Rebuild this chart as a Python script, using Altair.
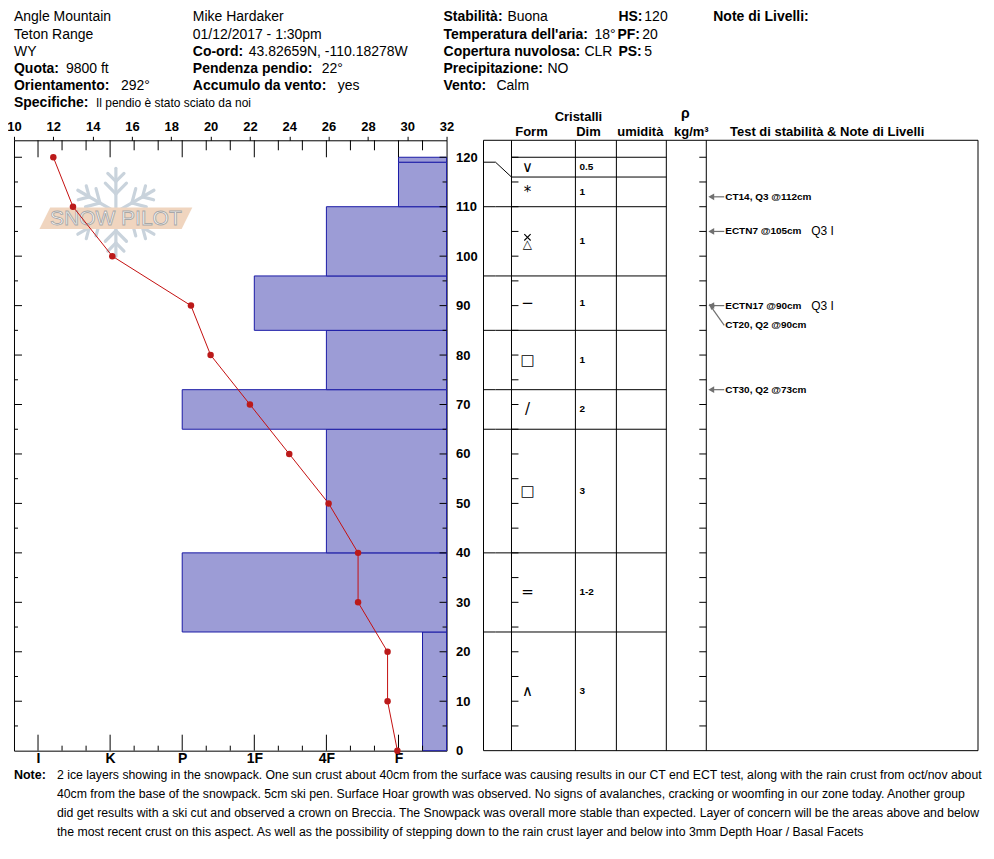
import math
import altair as alt
import pandas as pd

# ---------------- data ----------------
header_place = ["Angle Mountain", "Teton Range", "WY"]
header_observer = ["Mike Hardaker", "01/12/2017 - 1:30pm"]
header_labels = ["Quota:", "Orientamento:", "Specifiche:",
                 "Co-ord:", "Pendenza pendio:", "Accumulo da vento:",
                 "Stabilità:", "Temperatura dell'aria:", "Copertura nuvolosa:",
                 "Precipitazione:", "Vento:", "HS:", "PF:", "PS:", "Note di Livelli:"]
header_values = ["9800 ft", "292°", "Il pendio è stato sciato da noi",
                 "43.82659N, -110.18278W", "22°", "yes",
                 "Buona", "18°", "CLR", "NO", "Calm", "120", "20", "5", ""]

temp_height = [0, 10, 20, 30, 40, 50, 60, 70, 80, 90, 100, 110, 120]
temp_value = [29.5, 29.0, 29.0, 27.5, 27.5, 26.0, 24.0, 22.0, 20.0, 19.0, 15.0, 13.0, 12.0]
temp_ticks = [10, 12, 14, 16, 18, 20, 22, 24, 26, 28, 30, 32]

hard_codes = ["", "F-", "F", "F+", "4F-", "4F", "4F+", "1F-", "1F", "1F+",
              "P-", "P", "P+", "K-", "K", "K+", "I-", "I", "I+"]
hard_axis_labels = ["F", "4F", "1F", "P", "K", "I"]

layer_bottom = [0, 24, 40, 65, 73, 85, 96, 110, 119]
layer_top = [24, 40, 65, 73, 85, 96, 110, 119, 120]
layer_hardness = ["F-", "P", "4F", "P", "4F", "1F", "4F", "F", "F"]

row_bottom = [0, 24, 40, 65, 73, 85, 96, 110, 116]
row_top = [24, 40, 65, 73, 85, 96, 110, 116, 120]
crystal_form = ["∧", "=", "□", "/", "□", "−", "△", "*", "∨"]
crystal_cross = [False, False, False, False, False, False, True, False, False]
crystal_size = ["3", "1-2", "3", "2", "1", "1", "1", "1", "0.5"]

test_text = ["CT14, Q3 @112cm", "ECTN7 @105cm", "ECTN17 @90cm", "CT20, Q2 @90cm", "CT30, Q2 @73cm"]
test_height = [112, 105, 90, 90, 73]
test_label_height = [112, 105, 90, 86, 73]
test_extra = ["", "Q3 I", "Q3 I", "", ""]

height_labels = list(range(0, 121, 10))

table_titles = ["Cristalli", "Form", "Dim", "umidità", "ρ", "kg/m³",
                "Test di stabilità & Note di Livelli"]

note_label = "Note:"
note_lines = [
    "2 ice layers showing in the snowpack.  One sun crust about 40cm from the surface was causing results in our CT end ECT test, along with the rain crust from oct/nov about",
    "40cm from the base of the snowpack. 5cm ski pen.  Surface Hoar growth was observed.  No signs of avalanches, cracking or woomfing in our zone today. Another group",
    "did get results with a ski cut and observed a crown on Breccia. The Snowpack was overall more stable than expected.  Layer of concern will be the areas above and below",
    "the most recent crust on this aspect. As well as the possibility of stepping down to the rain crust layer and below into 3mm Depth Hoar / Basal Facets",
]

# ---------------- layout (page pixels) ----------------
L, T = 14, 140          # top-left of the profile plot on the page
W, H = 433, 611         # profile plot size
YMAX = 123.43
FONT = "Liberation Sans"


def px(x):
    return x - L


def py(y):
    return y - T


ROW = [21, 38.2, 55.4, 72.6, 89.8, 107]
place_pos = [(14, ROW[0]), (14, ROW[1]), (14, ROW[2])]
observer_pos = [(193, ROW[0]), (193, ROW[1])]
label_pos = [(14, ROW[3]), (14, ROW[4]), (14, ROW[5]),
             (193, ROW[2]), (193, ROW[3]), (193, ROW[4]),
             (444, ROW[0]), (444, ROW[1]), (444, ROW[2]), (444, ROW[3]), (444, ROW[4]),
             (619, ROW[0]), (618, ROW[1]), (619, ROW[2]), (714, ROW[0])]
value_x = [66, 121, 96, 249, 322, 338, 508, 595, 585, 548, 497, 645, 643, 645, 0]
title_pos = [(579, 121, 13), (532, 136, 13), (589, 136, 13), (641, 136, 13),
             (686, 118, 14), (692, 136, 13), (828, 136, 13)]

# ---------------- scales / axes ----------------
yscale = alt.Scale(domain=[0, YMAX], nice=False, zero=False)
yaxis = alt.Axis(orient="right", values=height_labels, ticks=False, domain=False, grid=False,
                 labelFontSize=13, labelFontWeight="bold", labelPadding=9, title=None,
                 labelFont=FONT, labelColor="black")


def Y(f):
    return alt.Y(f, type="quantitative", scale=yscale, axis=yaxis)


tscale = alt.Scale(domain=[10, 32], nice=False, zero=False)
taxis = alt.Axis(orient="top", values=temp_ticks, grid=False, domain=False, tickSize=4,
                 tickColor="black", labelFontSize=13, labelFontWeight="bold", labelPadding=3,
                 labelFlush=False, labelOverlap=False, title=None, labelFont=FONT,
                 labelColor="black")

hscale = alt.Scale(domain=[0, 18], nice=False, zero=True, reverse=True)
label_array = "[" + ",".join("'" + c + "'" for c in hard_codes) + "]"
haxis = alt.Axis(orient="bottom", values=[hard_codes.index(c) for c in hard_axis_labels],
                 labelExpr=label_array + "[datum.value]", ticks=False, domain=False,
                 grid=False, labelFontSize=14, labelFontWeight="bold", labelPadding=1,
                 labelFlush=False, labelOverlap=False, title=None, labelFont=FONT,
                 labelColor="black")


def XH(f):
    return alt.X(f, type="quantitative", scale=hscale, axis=haxis)


def XP(f):
    return alt.X(f, type="quantitative", scale=None, axis=None)


def YP(f):
    return alt.Y(f, type="quantitative", scale=None, axis=None)


one = pd.DataFrame({"a": [0]})

# ---------------- logo (decoration) ----------------
cx, cy, R = 116, 212, 44
segs = []
for k in range(6):
    a = math.radians(90 + 60 * k)
    dx, dy = math.cos(a), -math.sin(a)
    segs.append((cx, cy, cx + R * dx, cy + R * dy))
    for f, bl in [(0.42, 0.34), (0.70, 0.26)]:
        bx, by = cx + R * f * dx, cy + R * f * dy
        for s in (-1, 1):
            b = a + s * math.radians(45)
            segs.append((bx, by, bx + R * bl * math.cos(b), by - R * bl * math.sin(b)))
df_flake = pd.DataFrame([{"x1": px(a), "y1": py(b), "x2": px(c), "y2": py(d)} for a, b, c, d in segs])
flake = alt.Chart(df_flake).mark_rule(color="#c9d3dc", strokeWidth=3.2, strokeCap="round").encode(
    x=XP("x1"), y=YP("y1"), x2="x2:Q", y2="y2:Q")
band = alt.Chart(one).mark_point(
    shape="M -1 0.14 L -0.86 -0.14 L 1 -0.14 L 0.86 0.14 Z",
    filled=True, color="#f0d5bf", opacity=1, size=153 * 153).encode(
    x=alt.value(px(116)), y=alt.value(py(218)))
logo_text = alt.Chart(one).mark_text(
    text="SNOW PILOT", font=FONT, fontSize=21, fill="white", stroke="#a8a8a8",
    strokeWidth=0.9, align="center", baseline="middle").encode(
    x=alt.value(px(116)), y=alt.value(py(218.5)))
logo = alt.layer(flake, band, logo_text)

# ---------------- hardness profile ----------------
df_layers = pd.DataFrame({"b": layer_bottom, "t": layer_top,
                          "hv": [hard_codes.index(c) for c in layer_hardness],
                          "zero": [0] * len(layer_bottom)})
bars = alt.Chart(df_layers).mark_rect(fill="#9c9cd6", stroke="#1a1aa6", strokeWidth=1).encode(
    x=XH("hv"), x2="zero:Q", y=Y("b"), y2="t:Q")

major_h = [hard_codes.index(c) for c in hard_axis_labels]
df_ht_major = pd.DataFrame({"hv": major_h})
df_ht_minor = pd.DataFrame({"hv": [v for v in range(1, 18) if v not in major_h]})
tick_top_major = alt.Chart(df_ht_major).mark_rule(color="black").encode(
    x=XH("hv"), y=alt.value(0), y2=alt.value(17))
tick_top_minor = alt.Chart(df_ht_minor).mark_rule(color="black").encode(
    x=XH("hv"), y=alt.value(0), y2=alt.value(10))
tick_bot_major = alt.Chart(df_ht_major).mark_rule(color="black").encode(
    x=XH("hv"), y=alt.value(H), y2=alt.value(H - 16))
tick_bot_minor = alt.Chart(df_ht_minor).mark_rule(color="black").encode(
    x=XH("hv"), y=alt.value(H), y2=alt.value(H - 5))
hard_group = alt.layer(bars, tick_top_major, tick_top_minor, tick_bot_major, tick_bot_minor)

# ---------------- temperature profile ----------------
df_temp = pd.DataFrame({"h": temp_height, "t": temp_value})
tline = alt.Chart(df_temp).mark_line(color="#c40f0f", strokeWidth=1).encode(
    x=alt.X("t:Q", scale=tscale, axis=taxis), y=Y("h"), order="h:Q")
tpts = alt.Chart(df_temp).mark_circle(color="#bb1a1a", size=42, opacity=1).encode(
    x=alt.X("t:Q", scale=tscale, axis=taxis), y=Y("h"))
temp_group = alt.layer(tline, tpts)

# ---------------- height ticks on plot edges and table ----------------
df_y10 = pd.DataFrame({"h": list(range(10, 121, 10))})
df_y5 = pd.DataFrame({"h": list(range(5, 121, 10))})
edge_ticks = []
for df_, llen, rlen in [(df_y10, 8, 7), (df_y5, 4, 4)]:
    edge_ticks.append(alt.Chart(df_).mark_rule(color="black").encode(
        x=alt.value(0), x2=alt.value(llen), y=Y("h")))
    edge_ticks.append(alt.Chart(df_).mark_rule(color="black").encode(
        x=alt.value(W - rlen), x2=alt.value(W), y=Y("h")))
df_y_all = pd.DataFrame({"h": list(range(5, 121, 5))})
edge_ticks.append(alt.Chart(df_y_all).mark_rule(color="black").encode(
    x=alt.value(px(512)), x2=alt.value(px(519)), y=Y("h")))
edge_ticks.append(alt.Chart(df_y_all).mark_rule(color="black").encode(
    x=alt.value(px(700)), x2=alt.value(px(707)), y=Y("h")))

# ---------------- crystal table ----------------
box = alt.Chart(one).mark_rect(fillOpacity=0, stroke="black", strokeWidth=1).encode(
    x=alt.value(px(484)), x2=alt.value(px(979)), y=alt.value(0), y2=alt.value(H))
df_cols = pd.DataFrame({"x": [px(v) for v in [512, 576, 617, 667, 707]]})
col_lines = alt.Chart(df_cols).mark_rule(color="black").encode(
    x=XP("x"), y=alt.value(0), y2=alt.value(H))
df_rowl = pd.DataFrame({"h": row_top, "x1": [px(512)] * len(row_top), "x2": [px(667)] * len(row_top)})
row_lines = alt.Chart(df_rowl).mark_rule(color="black").encode(
    x=XP("x1"), x2="x2:Q", y=Y("h"))
conn = []
for real, disp in zip(layer_top[:-1], row_top[:-1]):
    conn.append({"x1": px(484), "x2": px(496), "h1": real, "h2": real})
    conn.append({"x1": px(496), "x2": px(512), "h1": real, "h2": disp})
df_conn = pd.DataFrame(conn)
connectors = alt.Chart(df_conn).mark_rule(color="black").encode(
    x=XP("x1"), x2="x2:Q", y=Y("h1"), y2="h2:Q")

df_cry = pd.DataFrame({"mid": [(a + b) / 2 for a, b in zip(row_bottom, row_top)],
                       "form": crystal_form, "size": crystal_size, "cross": crystal_cross})
forms = alt.Chart(df_cry[~df_cry["cross"]]).mark_text(
    font="DejaVu Sans", fontSize=15, color="black", align="center", baseline="middle").encode(
    x=alt.value(px(528)), y=Y("mid"), text="form:N")
forms_base = alt.Chart(df_cry[df_cry["cross"]]).mark_text(
    font="DejaVu Sans", fontSize=12, color="black", align="center", baseline="middle", dy=3).encode(
    x=alt.value(px(528)), y=Y("mid"), text="form:N")
forms_cross = alt.Chart(df_cry[df_cry["cross"]]).mark_point(
    shape="M -1 -1 L 1 1 M 1 -1 L -1 1", filled=False, color="black", strokeWidth=1.1,
    opacity=1, size=40, yOffset=-4).encode(
    x=alt.value(px(528)), y=Y("mid"))
sizes = alt.Chart(df_cry).mark_text(font=FONT, fontSize=10, fontWeight="bold", color="black",
                                    align="left", baseline="middle").encode(
    x=alt.value(px(580)), y=Y("mid"), text="size:N")

# ---------------- stability tests ----------------
df_st = pd.DataFrame({"txt": test_text, "h": test_height, "lh": test_label_height,
                      "extra": test_extra,
                      "ang": [270 if a == b else 311 for a, b in zip(test_height, test_label_height)]})
st_lines = alt.Chart(df_st).mark_rule(color="#707070", strokeWidth=1.2).encode(
    x=alt.value(px(725)), x2=alt.value(px(711)), y=Y("lh"), y2="h:Q")
st_heads = alt.Chart(df_st).mark_point(shape="triangle-up", filled=True, color="#707070",
                                       opacity=1, size=45).encode(
    x=alt.value(px(712)), y=Y("h"), angle=alt.Angle("ang:Q", scale=None))
st_text = alt.Chart(df_st).mark_text(font=FONT, fontSize=10, fontWeight="bold", color="black",
                                     align="left", baseline="middle").encode(
    x=alt.value(px(726)), y=Y("lh"), text="txt:N")
st_extra = alt.Chart(df_st).mark_text(font=FONT, fontSize=12, color="black",
                                      align="left", baseline="middle").encode(
    x=alt.value(px(812)), y=Y("lh"), text="extra:N")

table_group = alt.layer(box, col_lines, row_lines, connectors, *edge_ticks, forms, forms_base,
                        forms_cross, sizes, st_lines, st_heads, st_text, st_extra)

main = alt.layer(hard_group, temp_group, table_group).resolve_scale(x="independent")

# ---------------- header / titles / notes (pixel positioned) ----------------
df_reg = pd.DataFrame({"txt": header_place + header_observer,
                       "x": [px(p[0]) for p in place_pos + observer_pos],
                       "y": [py(p[1]) for p in place_pos + observer_pos]})
df_lab = pd.DataFrame({"txt": header_labels,
                       "x": [px(p[0]) for p in label_pos],
                       "y": [py(p[1]) for p in label_pos]})
val_rows = [(v, px(x), py(p[1])) for v, x, p in zip(header_values, value_x, label_pos) if v]
df_val = pd.DataFrame(val_rows, columns=["txt", "x", "y"])
df_val["small"] = df_val["txt"] == header_values[2]

t_reg = alt.Chart(df_reg).mark_text(font=FONT, fontSize=14, color="black", align="left",
                                    baseline="alphabetic").encode(
    x=XP("x"), y=YP("y"), text="txt:N")
t_lab = alt.Chart(df_lab).mark_text(font=FONT, fontSize=14, fontWeight="bold", color="black",
                                    align="left", baseline="alphabetic").encode(
    x=XP("x"), y=YP("y"), text="txt:N")
t_val = alt.Chart(df_val[~df_val["small"]]).mark_text(font=FONT, fontSize=14, color="black",
                                                      align="left", baseline="alphabetic").encode(
    x=XP("x"), y=YP("y"), text="txt:N")
t_val_small = alt.Chart(df_val[df_val["small"]]).mark_text(font=FONT, fontSize=12, color="black",
                                                           align="left", baseline="alphabetic").encode(
    x=XP("x"), y=YP("y"), text="txt:N")

df_titles = pd.DataFrame({"txt": table_titles,
                          "x": [px(p[0]) for p in title_pos],
                          "y": [py(p[1]) for p in title_pos],
                          "fs": [p[2] for p in title_pos]})
t_titles = alt.Chart(df_titles).mark_text(font=FONT, fontWeight="bold", color="black",
                                          align="center", baseline="alphabetic").encode(
    x=XP("x"), y=YP("y"), text="txt:N", size=alt.Size("fs:Q", scale=None, legend=None))

NOTE_Y = [779, 798, 817, 836]
df_note = pd.DataFrame({"txt": note_lines, "x": [px(57)] * 4, "y": [py(v) for v in NOTE_Y]})
t_note_lab = alt.Chart(one).mark_text(text=note_label, font=FONT, fontSize=12.5, fontWeight="bold",
                                      color="black", align="left", baseline="alphabetic").encode(
    x=alt.value(px(14)), y=alt.value(py(NOTE_Y[0])))
t_note = alt.Chart(df_note).mark_text(font=FONT, fontSize=12.3, color="black",
                                      align="left", baseline="alphabetic").encode(
    x=XP("x"), y=YP("y"), text="txt:N")

texts = alt.layer(t_reg, t_lab, t_val, t_val_small, t_titles, t_note_lab, t_note)

chart = alt.layer(logo, main, texts).resolve_scale(x="independent", y="independent").properties(
    width=W, height=H,
    padding={"left": 6, "top": 132, "right": 540, "bottom": 100},
    autosize=alt.AutoSizeParams(type="none"),
    background="white",
).configure_view(stroke="black", strokeWidth=1).configure_axis(grid=False)

chart.save("out.html", embed_options={"renderer": "svg", "actions": False})
